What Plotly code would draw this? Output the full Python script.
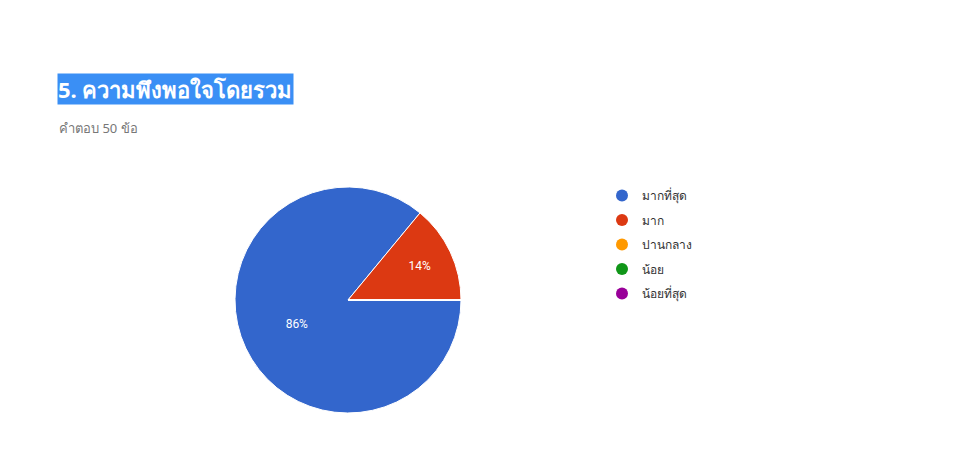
import plotly.graph_objects as go

title_text = "5. ความพึงพอใจโดยรวม"
subtitle_text = "คำตอบ 50 ข้อ"
labels = ["มากที่สุด", "มาก", "ปานกลาง", "น้อย", "น้อยที่สุด"]
values = [43, 7, 0, 0, 0]
colors = ["#3366cc", "#dc3912", "#ff9900", "#109618", "#990099"]

W, H = 962, 470
cx, cy, r = 348, 300, 113

fig = go.Figure()
fig.add_trace(go.Pie(
    labels=labels, values=values, sort=False, direction="clockwise", rotation=90,
    marker=dict(colors=colors, line=dict(color="white", width=1)),
    textinfo="percent", texttemplate="%{percent:.0%}", textposition="inside",
    insidetextfont=dict(color="white", size=12, family="Roboto, Arial"),
    showlegend=False, hoverinfo="label+value+percent",
    domain=dict(x=[(cx - r) / W, (cx + r) / W], y=[(H - cy - r) / H, (H - cy + r) / H]),
))
for i, (lab, col) in enumerate(zip(labels, colors)):
    fig.add_trace(go.Scatter(x=[None], y=[None], mode="markers", name=lab,
                             legendgroup=f"g{i}",
                             marker=dict(symbol="circle", size=12, color=col)))

fig.add_annotation(text="<b>" + title_text + "</b>", xref="paper", yref="paper",
                   x=57 / W, y=1 - 73 / H,
                   xanchor="left", yanchor="top", showarrow=False,
                   font=dict(size=22, color="white", family="Noto Sans, Roboto, Arial"),
                   bgcolor="#3a8ff5", borderpad=0)
fig.add_annotation(text=subtitle_text, xref="paper", yref="paper", x=57 / W, y=1 - 117 / H,
                   xanchor="left", yanchor="top", showarrow=False,
                   font=dict(size=13, color="#777777", family="Noto Sans, Roboto, Arial"))

fig.update_layout(
    width=W, height=H, margin=dict(l=0, r=0, t=0, b=0),
    paper_bgcolor="white", plot_bgcolor="white",
    xaxis=dict(visible=False), yaxis=dict(visible=False),
    showlegend=True,
    legend=dict(x=602 / W, y=1 - 181 / H, xanchor="left", yanchor="top",
                font=dict(size=12, color="#333333", family="Noto Sans, Roboto, Arial"),
                tracegroupgap=5.5, itemwidth=30, bgcolor="rgba(0,0,0,0)"),
)
fig.write_html("out.html")
